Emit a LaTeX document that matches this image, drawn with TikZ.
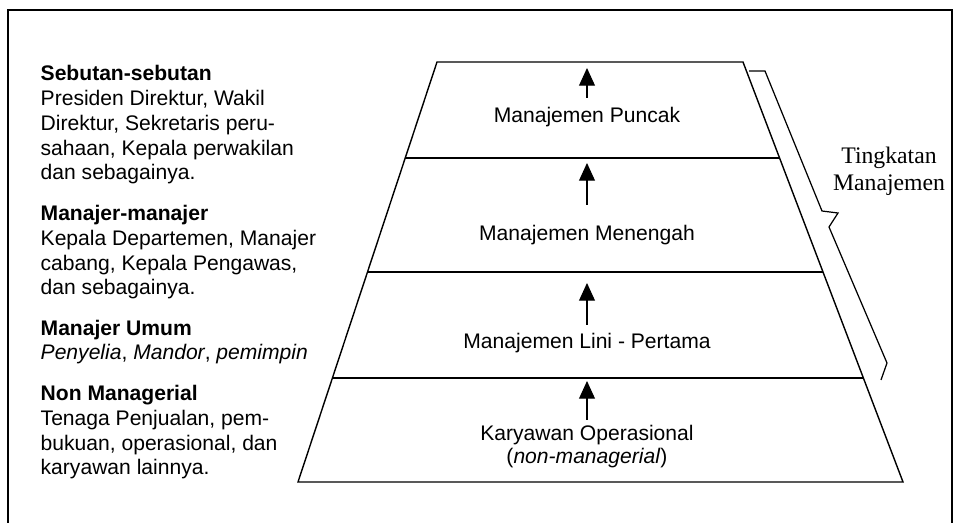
\documentclass[tikz,border=0pt]{standalone}
\usepackage{fontspec}
\setmainfont{Liberation Serif}
\setsansfont{Liberation Sans}
\usetikzlibrary{arrows.meta}
\tikzset{
    lvl/.style={anchor=base, font=\sffamily\fontsize{12}{13}\selectfont, align=center},
    side/.style={anchor=base west, font=\sffamily\fontsize{12}{14.2}\selectfont, align=left, inner sep=0pt}
}
\begin{document}
\begin{tikzpicture}[>={Triangle[width=9pt,length=10pt]}, x=.02cm, y=-.02cm, line width=.8pt]
\useasboundingbox (0,0) rectangle (958,523);
% frame, open at the bottom
\draw(8,523)--(8,10)--(952,10)--(952,523);

% pyramid
\draw(437,62)--(743,62)--(903,482)--(298,482)--cycle;
\foreach \y in {158,272,378}
{
    \draw({437-0.331*(\y-62)},\y)--({743+0.381*(\y-62)},\y);
}

% arrows inside the levels
\foreach \i/\s/\t in {1/98/68, 2/205/163, 3/325/283, 4/420/381}
{
    \coordinate (tail\i) at (587,\s);
    \coordinate (tip\i) at (587,\t);
    \draw[->, line width=.6pt](tail\i)--(tip\i);
}
\node[lvl] (puncak) at (587,123){Manajemen Puncak};
\node[lvl] (menengah) at (587,241){Manajemen Menengah};
\node[lvl] (lini) at (587,349){Manajemen Lini - Pertama};
% base of a multi-line node is its last line
\node[lvl, font=\sffamily\fontsize{12}{13.1}\selectfont] (karyawan) at (587,464){Karyawan Operasional\\(\textit{non-managerial})};

% bracket
\draw[line width=.7pt](749,71)--(765,71)--(822,211)--(838,213)--(829,227)--(887,363)--(881,380);
\node[anchor=base, align=center, font=\rmfamily\fontsize{13.5}{15.9}\selectfont] (tingkat) at (889,191){Tingkatan\\Manajemen};

% descriptions on the left
\node[side] (sebutan) at (40,180){\textbf{Sebutan-sebutan}\\Presiden Direktur, Wakil\\Direktur, Sekretaris peru-\\sahaan, Kepala perwakilan\\dan sebagainya.};
\node[side] (manajer) at (40,295){\textbf{Manajer-manajer}\\Kepala Departemen, Manajer\\cabang, Kepala Pengawas,\\dan sebagainya.};
\node[side] (umum) at (40,360){\textbf{Manajer Umum}\\\textit{Penyelia}, \textit{Mandor}, \textit{pemimpin}};
\node[side] (non) at (40,475){\textbf{Non Managerial}\\Tenaga Penjualan, pem-\\bukuan, operasional, dan\\karyawan lainnya.};
\end{tikzpicture}
\end{document}
